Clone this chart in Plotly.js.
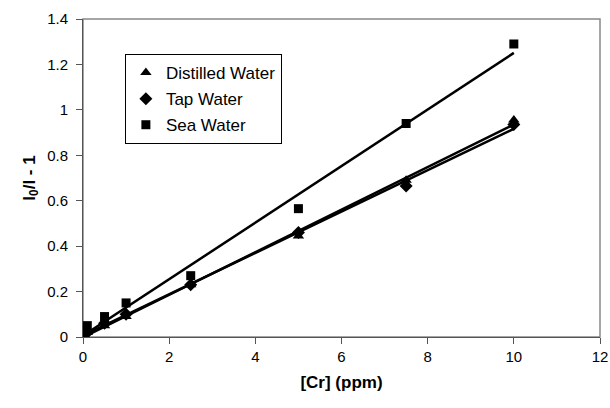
<!DOCTYPE html>
<html><head><meta charset="utf-8">
<script src="https://cdn.plot.ly/plotly-3.0.1.min.js"></script>
<style>body{margin:0;background:#fff}#c{width:610px;height:408px}</style>
</head><body><div id="c"></div>
<script>
const conc = [0, 0.1, 0.5, 1, 2.5, 5, 7.5, 10];
const distilled = [0, 0.02, 0.05, 0.09, 0.23, 0.445, 0.69, 0.955];
const tap = [0, 0.02, 0.06, 0.10, 0.23, 0.46, 0.665, 0.935];
const sea = [0, 0.05, 0.09, 0.15, 0.27, 0.565, 0.94, 1.29];
const names = ['Distilled Water', 'Tap Water', 'Sea Water'];
const symbols = ['triangle-up', 'diamond', 'square'];
const xTicks = [0, 2, 4, 6, 8, 10, 12];
const yTicks = [0, 0.2, 0.4, 0.6, 0.8, 1, 1.2, 1.4];

function fit(x, y) {
  const n = x.length;
  const mx = x.reduce((a, b) => a + b, 0) / n;
  const my = y.reduce((a, b) => a + b, 0) / n;
  let sxy = 0, sxx = 0;
  for (let i = 0; i < n; i++) { sxy += (x[i] - mx) * (y[i] - my); sxx += (x[i] - mx) ** 2; }
  const m = sxy / sxx, b = my - m * mx;
  const xs = [Math.min(...x), Math.max(...x)];
  return {x: xs, y: xs.map(v => m * v + b)};
}

const series = [distilled, tap, sea];
const sizes = [10, 10, 9];
const traces = [];
series.forEach((ys, i) => {
  const f = fit(conc, ys);
  traces.push({x: f.x, y: f.y, mode: 'lines', line: {color: '#000', width: 2.5}, showlegend: false, hoverinfo: 'skip'});
});
series.forEach((ys, i) => {
  traces.push({x: conc, y: ys, mode: 'markers', name: names[i], legendgroup: 'g' + i,
    marker: {symbol: symbols[i], color: '#000', size: sizes[i]}});
});

const layout = {
  width: 610, height: 408,
  margin: {l: 83, r: 10, t: 19, b: 71},
  paper_bgcolor: '#fff', plot_bgcolor: '#fff',
  font: {family: 'Liberation Sans, Arial, sans-serif', color: '#000', size: 15},
  showlegend: true,
  legend: {x: 0.081, y: 0.89, xanchor: 'left', yanchor: 'top', bgcolor: '#fff',
    bordercolor: '#000', borderwidth: 1, font: {size: 17}, itemwidth: 30, tracegroupgap: 1},
  xaxis: {range: [0, 12], tickvals: xTicks, ticktext: xTicks.map(String), showgrid: false, zeroline: false,
    showline: true, linecolor: '#555', linewidth: 1, ticks: 'outside', ticklen: 6, tickcolor: '#555',
    title: {text: '<b>[Cr] (ppm)</b>', font: {size: 17}, standoff: 12}, tickfont: {size: 15}},
  yaxis: {range: [0, 1.4], tickvals: yTicks, ticktext: yTicks.map(String), showgrid: false, zeroline: false,
    showline: true, linecolor: '#555', linewidth: 1, ticks: 'outside', ticklen: 6, tickcolor: '#555',
    ticklabelstandoff: 5,
    title: {text: '<b>I<sub>0</sub>/I - 1</b>', font: {size: 17}, standoff: 7}, tickfont: {size: 15}},
  shapes: [{type: 'rect', xref: 'paper', yref: 'paper', x0: 0, x1: 1, y0: 0, y1: 1,
    line: {color: '#888', width: 1.5}, layer: 'below'}]
};
Plotly.newPlot('c', traces, layout, {staticPlot: true});
</script></body></html>
